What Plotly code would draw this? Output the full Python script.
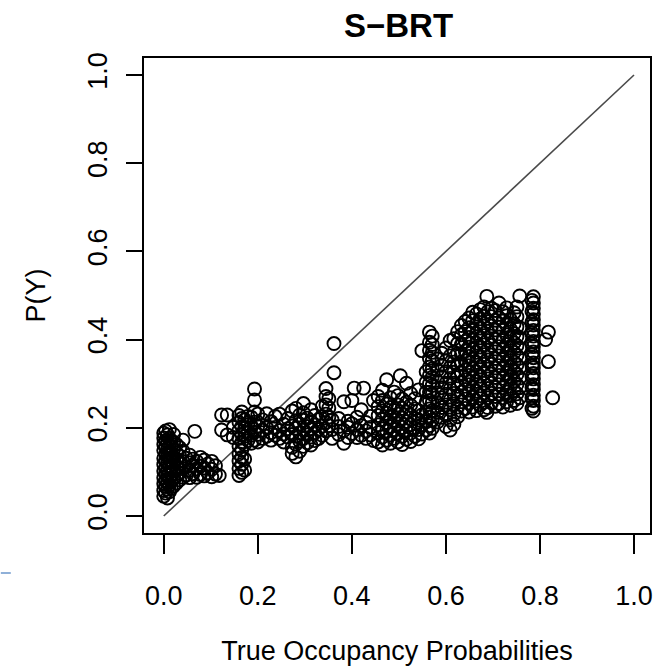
import plotly.graph_objects as go

# ---- data: columns of points (true occupancy x, predicted P(Y) values) ----
true_occ = [
    0.000, 0.004, 0.008, 0.012, 0.016, 0.021, 0.027, 0.034, 0.041,
    0.048, 0.055, 0.062, 0.066, 0.070, 0.078, 0.086, 0.094, 0.102, 0.110, 0.118,
    0.123, 0.135, 0.148,
    0.160, 0.166, 0.172, 0.179,
    0.186, 0.193, 0.200,
    0.210, 0.219, 0.228, 0.237, 0.246, 0.255, 0.264, 0.273, 0.281, 0.289,
    0.297, 0.305, 0.313, 0.321, 0.329, 0.337, 0.345, 0.351, 0.358, 0.362,
    0.372, 0.383, 0.392, 0.400, 0.405, 0.411, 0.420, 0.425, 0.430, 0.439, 0.446,
    0.456, 0.465, 0.474, 0.482, 0.490, 0.498, 0.503, 0.507, 0.516, 0.525,
    0.534, 0.542, 0.549,
    0.558, 0.565, 0.571,
    0.582, 0.591, 0.600, 0.609, 0.617, 0.625,
    0.633, 0.641, 0.649, 0.657, 0.665, 0.673, 0.681, 0.687, 0.689, 0.697,
    0.705, 0.713, 0.721, 0.729, 0.737, 0.745, 0.751, 0.757,
    0.783, 0.786,
    0.812, 0.818, 0.827,
]

pred_py = [
    [0.045, 0.058, 0.073, 0.087, 0.102, 0.117, 0.131, 0.149, 0.163, 0.177, 0.188],
    [0.052, 0.067, 0.080, 0.096, 0.109, 0.125, 0.140, 0.157, 0.171, 0.193],
    [0.041, 0.061, 0.076, 0.093, 0.106, 0.121, 0.138, 0.152, 0.168, 0.184],
    [0.055, 0.071, 0.085, 0.099, 0.114, 0.129, 0.146, 0.160, 0.176, 0.196],
    [0.063, 0.079, 0.094, 0.108, 0.126, 0.139, 0.158, 0.171],
    [0.068, 0.084, 0.103, 0.117, 0.134, 0.151, 0.166, 0.185],
    [0.075, 0.091, 0.112, 0.128, 0.143, 0.162],
    [0.082, 0.098, 0.119, 0.136, 0.155],
    [0.088, 0.107, 0.124, 0.147, 0.172],
    [0.093, 0.112, 0.131],
    [0.087, 0.104, 0.121, 0.138],
    [0.096, 0.115, 0.129],
    [0.192],
    [0.088, 0.107, 0.124],
    [0.094, 0.113, 0.133],
    [0.091, 0.109, 0.127],
    [0.098, 0.118],
    [0.089, 0.106, 0.124],
    [0.095, 0.114],
    [0.092],
    [0.195, 0.229],
    [0.184, 0.229],
    [0.178, 0.201],
    [0.092, 0.108, 0.125, 0.141, 0.158, 0.176, 0.194, 0.212, 0.228],
    [0.099, 0.117, 0.133, 0.150, 0.168, 0.185, 0.203, 0.221, 0.236],
    [0.104, 0.129, 0.162, 0.181, 0.199, 0.218],
    [0.171, 0.188, 0.207, 0.226],
    [0.165, 0.183, 0.201, 0.224],
    [0.172, 0.190, 0.213, 0.236, 0.263, 0.288],
    [0.168, 0.185, 0.204, 0.231],
    [0.176, 0.195, 0.218],
    [0.181, 0.200, 0.232],
    [0.172, 0.189, 0.214],
    [0.183, 0.201, 0.226],
    [0.176, 0.194, 0.231],
    [0.168, 0.186, 0.208],
    [0.179, 0.198, 0.221],
    [0.142, 0.156, 0.185, 0.204, 0.238],
    [0.134, 0.163, 0.181, 0.199, 0.216, 0.244],
    [0.147, 0.170, 0.188, 0.209, 0.229],
    [0.158, 0.176, 0.195, 0.217, 0.234, 0.255],
    [0.166, 0.184, 0.203, 0.222],
    [0.161, 0.179, 0.198, 0.214, 0.241],
    [0.171, 0.189, 0.207, 0.228],
    [0.176, 0.196, 0.219],
    [0.183, 0.204, 0.226, 0.249],
    [0.193, 0.212, 0.231, 0.252, 0.271, 0.289],
    [0.205, 0.224, 0.245, 0.266],
    [0.176, 0.196, 0.218],
    [0.325, 0.391],
    [0.185, 0.203, 0.221],
    [0.165, 0.194, 0.259],
    [0.178, 0.201, 0.215],
    [0.187, 0.209, 0.262],
    [0.290],
    [0.178, 0.196, 0.224],
    [0.183, 0.205, 0.241],
    [0.290],
    [0.176, 0.193, 0.212],
    [0.184, 0.201, 0.226],
    [0.171, 0.262],
    [0.168, 0.189, 0.207, 0.228, 0.248, 0.271],
    [0.161, 0.179, 0.198, 0.219, 0.238, 0.262, 0.285],
    [0.172, 0.193, 0.212, 0.233, 0.254, 0.309],
    [0.165, 0.184, 0.203, 0.224, 0.246, 0.268],
    [0.176, 0.196, 0.217, 0.239, 0.281],
    [0.168, 0.187, 0.209, 0.231, 0.252, 0.273],
    [0.318],
    [0.162, 0.181, 0.201, 0.222, 0.244, 0.265],
    [0.174, 0.193, 0.214, 0.236, 0.258, 0.301],
    [0.169, 0.188, 0.207, 0.229, 0.251, 0.278],
    [0.181, 0.199, 0.221, 0.243, 0.266],
    [0.175, 0.196, 0.218, 0.239, 0.286],
    [0.186, 0.207, 0.229, 0.375],
    [0.195, 0.214, 0.236, 0.258, 0.281, 0.303, 0.327],
    [0.188, 0.205, 0.224, 0.243, 0.262, 0.281, 0.300, 0.319, 0.338, 0.357, 0.376, 0.394, 0.417],
    [0.199, 0.218, 0.239, 0.257, 0.276, 0.296, 0.315, 0.334, 0.352, 0.371, 0.389, 0.408],
    [0.213, 0.235, 0.257, 0.279, 0.304, 0.331, 0.356],
    [0.224, 0.246, 0.268, 0.291, 0.316, 0.342, 0.369],
    [0.203, 0.229, 0.252, 0.276, 0.301, 0.327, 0.352, 0.381],
    [0.195, 0.218, 0.241, 0.263, 0.288, 0.312, 0.337, 0.363, 0.398],
    [0.208, 0.231, 0.254, 0.278, 0.301, 0.326, 0.349, 0.372, 0.402],
    [0.225, 0.247, 0.271, 0.294, 0.318, 0.343, 0.368, 0.391, 0.418],
    [0.238, 0.259, 0.281, 0.302, 0.324, 0.345, 0.367, 0.389, 0.411, 0.432],
    [0.244, 0.265, 0.287, 0.309, 0.331, 0.352, 0.374, 0.396, 0.418, 0.441],
    [0.236, 0.256, 0.277, 0.298, 0.319, 0.341, 0.362, 0.383, 0.405, 0.427, 0.449],
    [0.247, 0.269, 0.291, 0.313, 0.334, 0.356, 0.378, 0.399, 0.421, 0.443, 0.462],
    [0.239, 0.261, 0.283, 0.305, 0.327, 0.348, 0.371, 0.392, 0.414, 0.436, 0.458],
    [0.252, 0.273, 0.295, 0.317, 0.338, 0.361, 0.383, 0.404, 0.426, 0.447, 0.468],
    [0.241, 0.258, 0.279, 0.301, 0.323, 0.344, 0.366, 0.388, 0.409, 0.431, 0.453, 0.474],
    [0.235, 0.498],
    [0.246, 0.268, 0.289, 0.311, 0.333, 0.354, 0.376, 0.398, 0.419, 0.441, 0.463],
    [0.257, 0.278, 0.301, 0.322, 0.344, 0.365, 0.387, 0.408, 0.431, 0.452, 0.471],
    [0.249, 0.271, 0.292, 0.314, 0.336, 0.357, 0.379, 0.401, 0.422, 0.444, 0.466],
    [0.255, 0.276, 0.298, 0.319, 0.341, 0.363, 0.384, 0.406, 0.428, 0.449, 0.483],
    [0.247, 0.268, 0.291, 0.312, 0.334, 0.355, 0.377, 0.398, 0.421, 0.442, 0.463],
    [0.259, 0.281, 0.303, 0.324, 0.346, 0.368, 0.389, 0.411, 0.433, 0.454, 0.472],
    [0.251, 0.273, 0.294, 0.316, 0.338, 0.359, 0.381, 0.403, 0.424, 0.446],
    [0.262, 0.284, 0.306, 0.328, 0.349, 0.371, 0.393, 0.414, 0.436, 0.461],
    [0.255, 0.277, 0.298, 0.321, 0.343, 0.364, 0.386, 0.407, 0.429, 0.452, 0.474],
    [0.268, 0.291, 0.313, 0.336, 0.358, 0.381, 0.404, 0.427, 0.499],
    [0.244, 0.268, 0.292, 0.317, 0.341, 0.366, 0.390, 0.415, 0.440, 0.464, 0.489],
    [0.238, 0.249, 0.262, 0.274, 0.287, 0.298, 0.311, 0.323, 0.336, 0.347, 0.359,
     0.372, 0.384, 0.396, 0.408, 0.421, 0.433, 0.445, 0.458, 0.471, 0.483, 0.497],
    [0.400],
    [0.417, 0.350],
    [0.268],
]

x_ticks = [0.0, 0.2, 0.4, 0.6, 0.8, 1.0]
x_tick_labels = ["0.0", "0.2", "0.4", "0.6", "0.8", "1.0"]
y_ticks = [0.0, 0.2, 0.4, 0.6, 0.8, 1.0]
y_tick_labels = ["0.0", "0.2", "0.4", "0.6", "0.8", "1.0"]
ref_line = [0.0, 1.0]

xs, ys = [], []
for xv, col in zip(true_occ, pred_py):
    for yv in col:
        xs.append(xv)
        ys.append(yv)

FONT = "Liberation Sans, Arial, sans-serif"

fig = go.Figure()
fig.add_trace(go.Scatter(
    x=ref_line, y=ref_line, mode="lines",
    line=dict(color="#4a4a4a", width=1.6), hoverinfo="skip", showlegend=False,
))
fig.add_trace(go.Scatter(
    x=xs, y=ys, mode="markers",
    marker=dict(symbol="circle-open", size=13, color="black",
                line=dict(width=1.9, color="black")),
    showlegend=False,
))

fig.update_layout(
    width=656, height=670,
    margin=dict(l=144, r=3, t=58, b=137),
    paper_bgcolor="white", plot_bgcolor="white",
    title=dict(text="<b>S\u2212BRT</b>", x=398.5 / 656, xanchor="center",
               y=1 - 25 / 670, yanchor="middle",
               font=dict(family=FONT, size=33, color="black")),
    font=dict(family=FONT, color="black"),
    xaxis=dict(
        range=[-0.042, 1.034], tickvals=x_ticks, ticktext=x_tick_labels,
        showgrid=False, zeroline=False,
        showline=True, linecolor="black", linewidth=1.5, mirror=True,
        ticks="outside", ticklen=19, tickwidth=1.5, tickcolor="black",
        ticklabelstandoff=19,
        tickfont=dict(family=FONT, size=27, color="black"),
        title=dict(text="True Occupancy Probabilities", standoff=31,
                   font=dict(family=FONT, size=27, color="black")),
    ),
    yaxis=dict(
        range=[-0.0385, 1.0385], tickvals=y_ticks, ticktext=y_tick_labels,
        showgrid=False, zeroline=False,
        showline=True, linecolor="black", linewidth=1.5, mirror=True,
        ticks="outside", ticklen=16, tickwidth=1.5, tickcolor="black",
        tickangle=-90, ticklabelstandoff=8,
        tickfont=dict(family=FONT, size=27, color="black"),
        title=dict(text="P(Y)", standoff=30,
                   font=dict(family=FONT, size=27, color="black")),
    ),
    shapes=[dict(type="line", xref="paper", yref="paper",
                 x0=-144 / 509, x1=-134 / 509, y0=-40 / 475, y1=-40 / 475,
                 line=dict(color="#8fb0d8", width=2))],
)

fig.write_html("out.html")
